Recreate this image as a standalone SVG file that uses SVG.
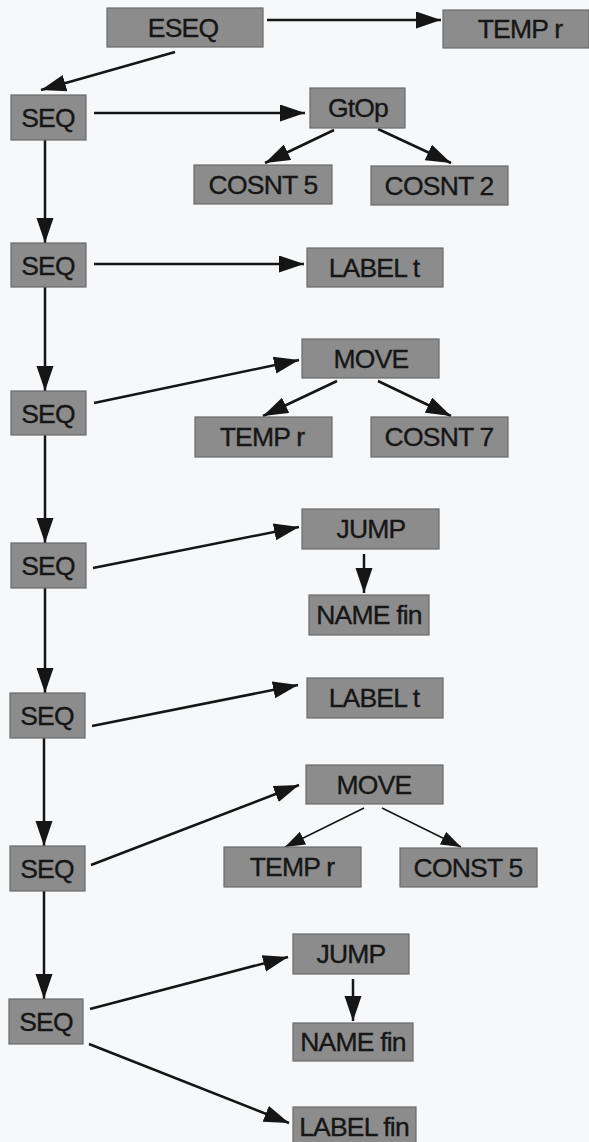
<svg xmlns="http://www.w3.org/2000/svg" width="589" height="1142" viewBox="0 0 589 1142">
  <style>
    .box { fill: #8c8c8c; stroke: #6a6a6a; stroke-width: 1.2; }
    .lbl { font-family: "Liberation Sans", Arial, sans-serif; font-size: 26.5px; fill: #161616; stroke: #161616; stroke-width: 0.35; text-anchor: middle; letter-spacing: -0.8px; }
    .edge { stroke: #151515; stroke-width: 2.5; fill: none; marker-end: url(#head); }
    .edge.thin { stroke-width: 1.5; marker-end: url(#headSmall); }
  </style>
  <defs>
    <marker id="head" markerUnits="userSpaceOnUse" markerWidth="26" markerHeight="18" refX="25" refY="8.5" orient="auto">
      <path d="M0,0 L25,8.5 L0,17 Z" fill="#151515"/>
    </marker>
    <marker id="headSmall" markerUnits="userSpaceOnUse" markerWidth="21" markerHeight="15" refX="20" refY="7" orient="auto">
      <path d="M0,0 L20,7 L0,14 Z" fill="#151515"/>
    </marker>
  </defs>
  <rect width="589" height="1142" fill="#f7f8f9"/>

  <!-- connectors -->
  <g id="edges">
    <line class="edge" x1="267" y1="20" x2="441" y2="20"/>
    <line class="edge" x1="175" y1="52" x2="41" y2="90"/>
    <line class="edge" x1="94" y1="113" x2="305" y2="113"/>
    <line class="edge" x1="334" y1="130" x2="265" y2="163"/>
    <line class="edge" x1="378" y1="129" x2="451" y2="163"/>
    <line class="edge" x1="45" y1="140" x2="45" y2="243"/>
    <line class="edge" x1="94" y1="264" x2="304" y2="264"/>
    <line class="edge" x1="45" y1="287" x2="45" y2="391"/>
    <line class="edge" x1="94" y1="403" x2="299" y2="360"/>
    <line class="edge" x1="337" y1="381" x2="263" y2="416"/>
    <line class="edge" x1="378" y1="381" x2="451" y2="416"/>
    <line class="edge" x1="45" y1="435" x2="45" y2="543"/>
    <line class="edge" x1="93" y1="568" x2="299" y2="527"/>
    <line class="edge" x1="364" y1="554" x2="364" y2="593"/>
    <line class="edge" x1="45" y1="588" x2="45" y2="693"/>
    <line class="edge" x1="92" y1="726" x2="298" y2="685"/>
    <line class="edge" x1="44" y1="738" x2="44" y2="846"/>
    <line class="edge" x1="91" y1="865" x2="299" y2="785"/>
    <line class="edge thin" x1="364" y1="808" x2="285" y2="847"/>
    <line class="edge thin" x1="382" y1="808" x2="461" y2="847"/>
    <line class="edge" x1="44" y1="891" x2="44" y2="999"/>
    <line class="edge" x1="90" y1="1009" x2="288" y2="957"/>
    <line class="edge" x1="353" y1="979" x2="353" y2="1021"/>
    <line class="edge" x1="89" y1="1044" x2="289" y2="1123"/>
  </g>

  <!-- nodes -->
  <g id="eseq"><rect class="box" x="107" y="8" width="156" height="39"/><text class="lbl" x="183" y="37">ESEQ</text></g>
  <g id="temp-r-result"><rect class="box" x="443" y="10" width="146" height="38"/><text class="lbl" x="520" y="38">TEMP r</text></g>

  <g id="seq-1"><rect class="box" x="11" y="95" width="75" height="45"/><text class="lbl" x="48" y="127">SEQ</text></g>
  <g id="gtop"><rect class="box" x="310" y="88" width="95" height="40"/><text class="lbl" x="358" y="117">GtOp</text></g>
  <g id="cosnt-5"><rect class="box" x="194" y="165" width="138" height="39"/><text class="lbl" x="263" y="194">COSNT 5</text></g>
  <g id="cosnt-2"><rect class="box" x="371" y="166" width="137" height="39"/><text class="lbl" x="439" y="195">COSNT 2</text></g>

  <g id="seq-2"><rect class="box" x="11" y="243" width="75" height="44"/><text class="lbl" x="48" y="275">SEQ</text></g>
  <g id="label-t-1"><rect class="box" x="307" y="248" width="136" height="39"/><text class="lbl" x="374" y="277">LABEL t</text></g>

  <g id="seq-3"><rect class="box" x="11" y="391" width="75" height="44"/><text class="lbl" x="48" y="423">SEQ</text></g>
  <g id="move-1"><rect class="box" x="302" y="339" width="137" height="39"/><text class="lbl" x="371" y="368">MOVE</text></g>
  <g id="temp-r-1"><rect class="box" x="195" y="417" width="137" height="40"/><text class="lbl" x="262" y="446">TEMP r</text></g>
  <g id="cosnt-7"><rect class="box" x="371" y="417" width="137" height="40"/><text class="lbl" x="439" y="446">COSNT 7</text></g>

  <g id="seq-4"><rect class="box" x="11" y="543" width="75" height="45"/><text class="lbl" x="48" y="575">SEQ</text></g>
  <g id="jump-1"><rect class="box" x="302" y="509" width="137" height="40"/><text class="lbl" x="371" y="538">JUMP</text></g>
  <g id="name-fin-1"><rect class="box" x="309" y="595" width="120" height="40"/><text class="lbl" x="369" y="624">NAME fin</text></g>

  <g id="seq-5"><rect class="box" x="10" y="693" width="75" height="45"/><text class="lbl" x="47" y="725">SEQ</text></g>
  <g id="label-t-2"><rect class="box" x="307" y="678" width="136" height="40"/><text class="lbl" x="374" y="707">LABEL t</text></g>

  <g id="seq-6"><rect class="box" x="10" y="846" width="75" height="45"/><text class="lbl" x="47" y="878">SEQ</text></g>
  <g id="move-2"><rect class="box" x="306" y="765" width="137" height="39"/><text class="lbl" x="374" y="794">MOVE</text></g>
  <g id="temp-r-2"><rect class="box" x="224" y="847" width="137" height="40"/><text class="lbl" x="292" y="876">TEMP r</text></g>
  <g id="const-5"><rect class="box" x="400" y="848" width="137" height="39"/><text class="lbl" x="468" y="877">CONST 5</text></g>

  <g id="seq-7"><rect class="box" x="9" y="999" width="74" height="45"/><text class="lbl" x="46" y="1031">SEQ</text></g>
  <g id="jump-2"><rect class="box" x="293" y="934" width="116" height="40"/><text class="lbl" x="351" y="963">JUMP</text></g>
  <g id="name-fin-2"><rect class="box" x="293" y="1023" width="120" height="38"/><text class="lbl" x="353" y="1051">NAME fin</text></g>
  <g id="label-fin"><rect class="box" x="293" y="1107" width="123" height="40"/><text class="lbl" x="354" y="1136">LABEL fin</text></g>
</svg>
